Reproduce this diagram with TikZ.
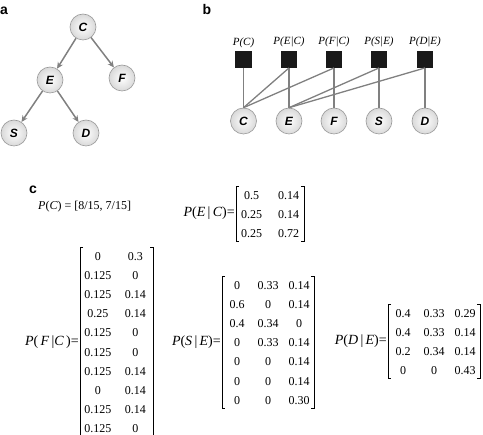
\documentclass[tikz,border=0pt]{standalone}
\usepackage{fontspec}
\setmainfont{Liberation Serif}
\setsansfont{Liberation Sans}
\usetikzlibrary{positioning, arrows.meta, matrix}

\tikzset{
	varnode/.style={circle, draw=gray!80, line width=0.6pt, shading=radial, inner color=white, outer color=gray!30, minimum size=26pt, inner sep=0pt, font=\sffamily\bfseries\itshape\fontsize{12}{12}\selectfont},
	facnode/.style={rectangle, fill=black!90, minimum size=16.5pt, inner sep=0pt},
	faclabel/.style={font=\itshape\fontsize{11}{11}\selectfont, inner sep=0pt},
	arrowline/.style={draw=gray, line width=1.5pt, -{Stealth[length=6.5pt, width=6pt]}},
	factorline/.style={draw=gray, line width=1.3pt},
	panellabel/.style={font=\sffamily\bfseries\fontsize{14}{14}\selectfont, inner sep=0pt},
	probmat/.style={matrix of nodes, anchor=north west, inner xsep=4pt, inner ysep=3.5pt, row sep=9.7pt,
		nodes={inner sep=0pt, text height=9.5pt, text depth=0pt, font=\fontsize{12}{13}\selectfont}},
	problabel/.style={inner sep=0pt, font=\fontsize{14}{14}\selectfont},
	brk/.style={line width=0.6pt},
}

\begin{document}
\begin{tikzpicture}[x=1pt, y=-1pt]
	\useasboundingbox (0,0) rectangle (483,435);
	
	% Panel a: Bayesian network
	\node[panellabel] (a) at (4,11) {a};
	\node[varnode] (C) at (83,27) {C};
	\node[varnode] (E) at (50,80) {E};
	\node[varnode] (F) at (122,78) {F};
	\node[varnode] (S) at (14,133) {S};
	\node[varnode] (D) at (86,133) {D};
	\draw[arrowline] (C) -- (E);
	\draw[arrowline] (C) -- (F);
	\draw[arrowline] (E) -- (S);
	\draw[arrowline] (E) -- (D);
	
	% Panel b: factor graph
	\node[panellabel] (b) at (207,10) {b};
	\node[facnode] (fC) at (243.5,59.5) {};
	\node[facnode] (fEC) at (289,59.5) {};
	\node[facnode] (fFC) at (334,59.5) {};
	\node[facnode] (fSE) at (379,59.5) {};
	\node[facnode] (fDE) at (425,59.5) {};
	\node[faclabel, above=3.5pt of fC] (tC) {P(C)};
	\node[faclabel, above=3.5pt of fEC] (tEC) {P(E|C)};
	\node[faclabel, above=3.5pt of fFC] (tFC) {P(F|C)};
	\node[faclabel, above=3.5pt of fSE] (tSE) {P(S|E)};
	\node[faclabel, above=3.5pt of fDE] (tDE) {P(D|E)};
	\node[varnode] (bC) at (243.5,121) {C};
	\node[varnode] (bE) at (289,121) {E};
	\node[varnode] (bF) at (334,121) {F};
	\node[varnode] (bS) at (379,121) {S};
	\node[varnode] (bD) at (425,121) {D};
	\foreach \f/\v in {fC/bC, fEC/bC, fEC/bE, fFC/bC, fFC/bF, fSE/bE, fSE/bS, fDE/bE, fDE/bD}
		\draw[factorline] (\f.south) -- (\v.north);
	
	% Panel c: probability tables
	\node[panellabel] (c) at (33,190) {c};
	\node[inner sep=0pt, anchor=west, font=\fontsize{12}{12}\selectfont] (pC) at (38,207)
		{\textit{P}(\textit{C}) = [8/15, 7/15]};
	
	\matrix (mEC) [probmat, inner xsep=2.5pt, column sep=11pt, nodes={minimum width=26pt}] at (236,186) {
		0.5 & 0.14 \\
		0.25 & 0.14 \\
		0.25 & 0.72 \\
	};
	\matrix (mFC) [probmat, inner xsep=3.5pt, column sep=9pt, nodes={minimum width=28.5pt}] at (80,247) {
		0 & 0.3 \\
		0.125 & 0 \\
		0.125 & 0.14 \\
		0.25 & 0.14 \\
		0.125 & 0 \\
		0.125 & 0 \\
		0.125 & 0.14 \\
		0 & 0.14 \\
		0.125 & 0.14 \\
		0.125 & 0 \\
	};
	\matrix (mSE) [probmat, column sep=9pt, nodes={minimum width=22pt}] at (222,276) {
		0 & 0.33 & 0.14 \\
		0.6 & 0 & 0.14 \\
		0.4 & 0.34 & 0 \\
		0 & 0.33 & 0.14 \\
		0 & 0 & 0.14 \\
		0 & 0 & 0.14 \\
		0 & 0 & 0.30 \\
	};
	\matrix (mDE) [probmat, column sep=9pt, nodes={minimum width=22pt}] at (388,304) {
		0.4 & 0.33 & 0.29 \\
		0.4 & 0.33 & 0.14 \\
		0.2 & 0.34 & 0.14 \\
		0 & 0 & 0.43 \\
	};
	\foreach \m in {mEC, mFC, mSE, mDE} {
		\draw[brk] ([xshift=3pt]\m.north west) -- (\m.north west) -- (\m.south west) -- ([xshift=3pt]\m.south west);
		\draw[brk] ([xshift=-3pt]\m.north east) -- (\m.north east) -- (\m.south east) -- ([xshift=-3pt]\m.south east);
	}
	\node[problabel, left=1pt of mEC] (lEC) {\textit{P}(\textit{E}\,|\,\textit{C})=};
	\node[problabel, left=1pt of mFC] (lFC) {\textit{P}(\,\textit{F}\,|\textit{C}\,)=};
	\node[problabel, left=1pt of mSE] (lSE) {\textit{P}(\textit{S}\,|\,\textit{E})=};
	\node[problabel, left=1pt of mDE] (lDE) {\textit{P}(\textit{D}\,|\,\textit{E})=};
\end{tikzpicture}
\end{document}
